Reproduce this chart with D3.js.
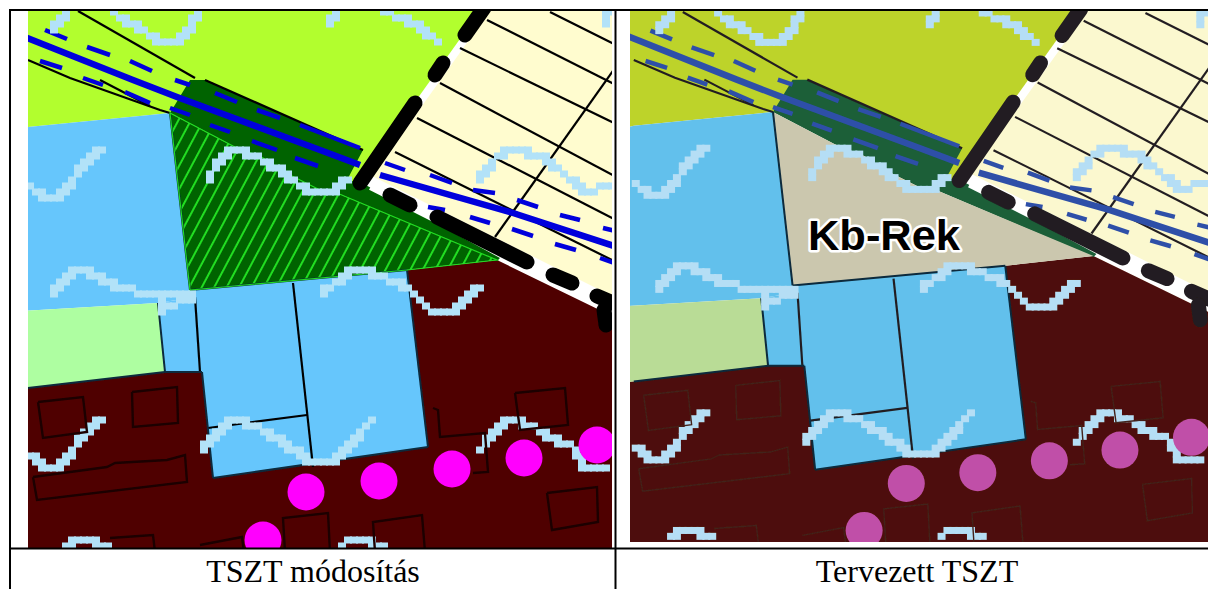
<!DOCTYPE html>
<html>
<head>
<meta charset="utf-8">
<script src="https://cdn.jsdelivr.net/npm/d3@7"></script>
<style>
  html, body { margin: 0; padding: 0; background: #fff; }
  svg { display: block; }
</style>
</head>
<body>
<svg id="map" width="1208" height="589"></svg>
<script>
// all geometry in map units, the right one is the same map slightly smaller
const limeArea = [[20,5],[487,5],[362,183],[345,180],[170,113],[28,127],[20,129]];
const blueArea = [[20,129],[28,127],[170,113],[190,290],[195,297],[158,303],[20,311]];
const creamArea = [[490,5],[620,5],[620,300],[372,176],[362,183]];
const lightGreenArea = [[20,311],[158,303],[165,372],[28,388],[20,389]];
const maroonArea = [[20,389],[165,372],[202,372],[190,290],[407,270],[497,260],[620,320],[620,556],[20,556]];
const blueBlocks = [[158,303],[195,297],[190,290],[407,270],[428,447],[213,478],[202,372],[165,372]];
const corridor = [[190,80],[205,80],[363,150],[347,180],[362,183],[500,258],[497,261],[337,193],[320,190],[290,175],[263,158],[233,146],[170,113]];
const changedArea = [[170,113],[233,146],[263,158],[290,175],[320,190],[337,193],[497,260],[407,270],[190,290]];

const whiteStrips = [
  [[487,8],[362,183]],
  [[372,184],[620,309]],
];
const thinLines = [
  [[78,11],[195,78]],
  [[205,80],[363,150]],
  [[28,60],[70,78],[160,110],[170,113]],
  [[100,80],[150,106]],
  [[550,12],[620,47]],
  [[487,20],[620,87]],
  [[460,48],[620,126]],
  [[440,83],[620,179]],
  [[417,118],[620,222]],
  [[395,152],[620,264]],
  [[620,61],[495,237]],
  [[195,297],[200,372]],
  [[293,283],[313,467]],
  [[208,428],[307,415]],
];
const plotEdges = [
  [[170,113],[190,290]],
  [[190,290],[407,270]],
  [[158,303],[165,372]],
  [[165,372],[28,388]],
  [[165,372],[202,372]],
  [[202,372],[213,478]],
  [[213,478],[428,447]],
  [[428,447],[407,270]],
];
const mainRoad = [[20,35],[133,80],[177,97],[320,150],[360,165]];
const mainRoadEast = [[380,175],[513,213],[620,248]];
const dashedRoads = [
  [[45,30],[67,39]], [[87,47],[110,55]], [[130,61],[152,71]], [[175,80],[190,85]],
  [[215,93],[237,102]], [[257,110],[280,118]], [[300,125],[360,148]],
  [[385,163],[405,170]], [[430,175],[452,183]], [[473,190],[495,193]],
  [[517,200],[538,207]], [[560,215],[580,220]], [[603,228],[620,232]],
  [[40,61],[62,68]], [[83,78],[103,85]], [[125,92],[150,103]], [[170,108],[190,115]],
  [[210,125],[230,132]], [[252,141],[277,150]], [[295,158],[318,166]],
  [[428,207],[445,210]], [[470,217],[490,223]], [[512,229],[533,236]],
  [[555,244],[576,250]], [[600,258],[620,265]],
];
const boundaryDashes = [
  [[484,8],[465,35]],
  [[443,63],[435,75]],
  [[415,103],[360,183]],
  [[390,195],[410,205]],
  [[437,217],[527,262]],
  [[553,275],[572,283]],
  [[597,296],[615,304]],
  [[604,310],[606,325]],
];
const waterLines = [
  [[53,27],[67,13]],
  [[113,13],[160,40],[177,43],[200,13]],
  [[327,23],[337,13]],
  [[385,12],[413,23],[440,43]],
  [[603,22],[610,13]],
  [[28,185],[43,197],[60,195],[100,148]],
  [[207,177],[233,148],[263,160],[290,177],[310,193],[333,193],[350,177]],
  [[53,293],[80,267],[117,287],[160,297],[190,293]],
  [[160,310],[190,298]],
  [[323,293],[355,268],[383,277],[410,290],[433,313],[453,313],[477,286]],
  [[28,453],[43,465],[60,465],[100,418]],
  [[205,447],[233,418],[263,430],[290,447],[313,463],[333,463],[373,418]],
  [[482,447],[508,418],[533,427],[553,438],[573,447],[583,465],[608,465]],
  [[67,547],[80,537],[110,547]],
  [[340,547],[353,537],[383,547]],
  [[480,177],[497,157],[513,148],[543,157],[567,177],[587,193],[610,183]],
];
const buildings = [
  [[38,402],[83,397],[87,432],[43,438],[38,402]],
  [[132,392],[177,387],[178,423],[133,427],[132,392]],
  [[33,477],[107,467],[115,463],[167,460],[185,455],[187,482],[37,500],[33,477]],
  [[110,538],[153,535],[155,552]],
  [[200,545],[242,537],[244,552]],
  [[285,552],[283,518],[328,513],[330,552]],
  [[375,552],[373,522],[422,515],[425,552]],
  [[547,493],[597,487],[598,522],[552,530],[547,493]],
  [[515,393],[565,388],[568,425],[520,430],[515,393]],
  [[433,408],[438,410],[440,437],[485,433],[488,472],[473,473]],
];
const parks = [[306,492],[379,481],[452,469],[524,458],[597,445],[263,540]];

const panelNames = ['left', 'right'];
const captions = ['TSZT módosítás', 'Tervezett TSZT'];
const labelText = 'Kb-Rek';

const svg = d3.select('#map');
const defs = svg.append('defs');

defs.append('pattern')
  .attr('id', 'hatch')
  .attr('patternUnits', 'userSpaceOnUse')
  .attr('width', 11).attr('height', 11)
  .attr('patternTransform', 'rotate(28)')
  .call((p) => {
    p.append('rect').attr('width', 11).attr('height', 11).attr('fill', '#006300');
    p.append('line').attr('x1', 5).attr('x2', 5).attr('y1', 0).attr('y2', 11)
      .attr('stroke', '#22dd22').attr('stroke-width', 2);
  });

// the source is a soft jpeg, take the hard edge off
defs.append('filter').attr('id', 'soft')
  .append('feGaussianBlur').attr('stdDeviation', 0.55);

const styles = {
  left: {
    clip: [28, 11, 584, 537],
    xRange: [28, 612], yRange: [11, 548],
    lime: '#b2fe2e', blue: '#66c6fc', cream: '#fffccf', lightGreen: '#aefea1',
    maroon: '#500000', green: '#006300', road: '#0000dc', ink: '#000',
    water: '#b2e2f8', park: '#ff00fe', building: '#1c0000', changed: 'url(#hatch)',
    changedStroke: '#22dd22',
  },
  right: {
    clip: [630, 11, 578, 531],
    xRange: [633.8, 1206.2], yRange: [12, 538.3],
    lime: '#bdd32c', blue: '#62c0ec', cream: '#fbf8cf', lightGreen: '#b9dc96',
    maroon: '#4e1008', green: '#1a5f38', road: '#2f50a8', ink: '#231f20',
    water: '#b5def5', park: '#c050a8', building: '#42201a', changed: '#cbc7ae',
    changedStroke: '#231f20',
  },
};

function drawPanel(name) {
  const s = styles[name];
  const x = d3.scaleLinear().domain([28, 612]).range(s.xRange);
  const y = d3.scaleLinear().domain([11, 548]).range(s.yRange);
  const line = d3.line().x((d) => x(d[0])).y((d) => y(d[1]));
  const area = (pts) => line(pts) + 'Z';

  defs.append('clipPath').attr('id', 'clip-' + name).append('rect')
    .attr('x', s.clip[0]).attr('y', s.clip[1])
    .attr('width', s.clip[2]).attr('height', s.clip[3]);

  const outer = svg.append('g').attr('clip-path', `url(#clip-${name})`);
  const g = outer.append('g').attr('filter', 'url(#soft)');

  const fills = [
    [limeArea, s.lime], [blueArea, s.blue], [creamArea, s.cream],
    [lightGreenArea, s.lightGreen], [maroonArea, s.maroon],
    [blueBlocks, s.blue], [corridor, s.green],
  ];
  g.selectAll('path.fill').data(fills).join('path').attr('class', 'fill')
    .attr('d', (d) => area(d[0])).attr('fill', (d) => d[1]);

  g.append('path').attr('d', area(changedArea)).attr('fill', s.changed);

  g.selectAll('path.strip').data(whiteStrips).join('path').attr('class', 'strip')
    .attr('d', line).attr('fill', 'none').attr('stroke', '#fff')
    .attr('stroke-width', (d, i) => [8, 13][i]);

  g.selectAll('path.thin').data(thinLines).join('path').attr('class', 'thin')
    .attr('d', line).attr('fill', 'none').attr('stroke', s.ink).attr('stroke-width', 2.2);

  g.selectAll('path.edge').data(plotEdges).join('path').attr('class', 'edge')
    .attr('d', line).attr('fill', 'none').attr('stroke', '#0a2a3c').attr('stroke-width', 2);

  if (name === 'left') {
    g.append('path').attr('d', area(changedArea)).attr('fill', 'none')
      .attr('stroke', s.changedStroke).attr('stroke-width', 1.2);
  }

  g.selectAll('path.road').data([mainRoad, mainRoadEast]).join('path').attr('class', 'road')
    .attr('d', line).attr('fill', 'none').attr('stroke', s.road).attr('stroke-width', 6.5);

  g.selectAll('path.dash').data(dashedRoads).join('path').attr('class', 'dash')
    .attr('d', line).attr('fill', 'none').attr('stroke', s.road).attr('stroke-width', 4.5);

  g.selectAll('path.boundary').data(boundaryDashes).join('path').attr('class', 'boundary')
    .attr('d', line).attr('fill', 'none').attr('stroke', s.ink)
    .attr('stroke-width', 15).attr('stroke-linecap', 'round');

  // water lines are blocky in the source, so snap them to a grid
  const cell = 6;
  const cells = new Map();
  waterLines.forEach((pts) => {
    d3.pairs(pts).forEach(([a, b]) => {
      const n = Math.ceil(Math.hypot(b[0] - a[0], b[1] - a[1]) / 2);
      for (let i = 0; i <= n; i++) {
        const cx = Math.round((a[0] + (b[0] - a[0]) * i / n) / cell) * cell;
        const cy = Math.round((a[1] + (b[1] - a[1]) * i / n) / cell) * cell;
        cells.set(cx + '_' + cy, [cx, cy]);
      }
    });
  });
  g.selectAll('rect.water').data([...cells.values()]).join('rect').attr('class', 'water')
    .attr('x', (d) => x(d[0]) - 4).attr('y', (d) => y(d[1]) - 3.5)
    .attr('width', 8).attr('height', 7).attr('fill', s.water);

  g.selectAll('path.building').data(buildings).join('path').attr('class', 'building')
    .attr('d', line).attr('fill', 'none').attr('stroke', s.building)
    .attr('stroke-width', name === 'left' ? 2.4 : 1.4);

  g.selectAll('circle.park').data(parks).join('circle').attr('class', 'park')
    .attr('cx', (d) => x(d[0])).attr('cy', (d) => y(d[1])).attr('r', 18.5)
    .attr('fill', s.park);

  if (name === 'right') {
    outer.append('text').attr('x', 884).attr('y', 250).attr('text-anchor', 'middle')
      .attr('font-family', 'Liberation Sans').attr('font-weight', 'bold')
      .attr('font-size', 42).attr('textLength', 152).attr('lengthAdjust', 'spacingAndGlyphs')
      .attr('fill', '#000').attr('stroke', '#fff').attr('stroke-width', 5)
      .attr('stroke-linejoin', 'round').attr('paint-order', 'stroke')
      .text(labelText);
  }
}

panelNames.forEach(drawPanel);

// table frame
const frame = svg.append('g').attr('stroke', '#000').attr('stroke-width', 2);
frame.append('line').attr('x1', 9).attr('x2', 1208).attr('y1', 10).attr('y2', 10);
frame.append('line').attr('x1', 10).attr('x2', 10).attr('y1', 9).attr('y2', 589);
frame.append('line').attr('x1', 615.5).attr('x2', 615.5).attr('y1', 9).attr('y2', 589);
frame.append('line').attr('x1', 9).attr('x2', 1208).attr('y1', 548.5).attr('y2', 548.5);

svg.selectAll('text.caption').data(captions).join('text').attr('class', 'caption')
  .attr('x', (d, i) => [313, 917][i]).attr('y', 582).attr('text-anchor', 'middle')
  .attr('font-family', 'Liberation Serif').attr('font-size', 32).attr('fill', '#000')
  .text((d) => d);
</script>
</body>
</html>
